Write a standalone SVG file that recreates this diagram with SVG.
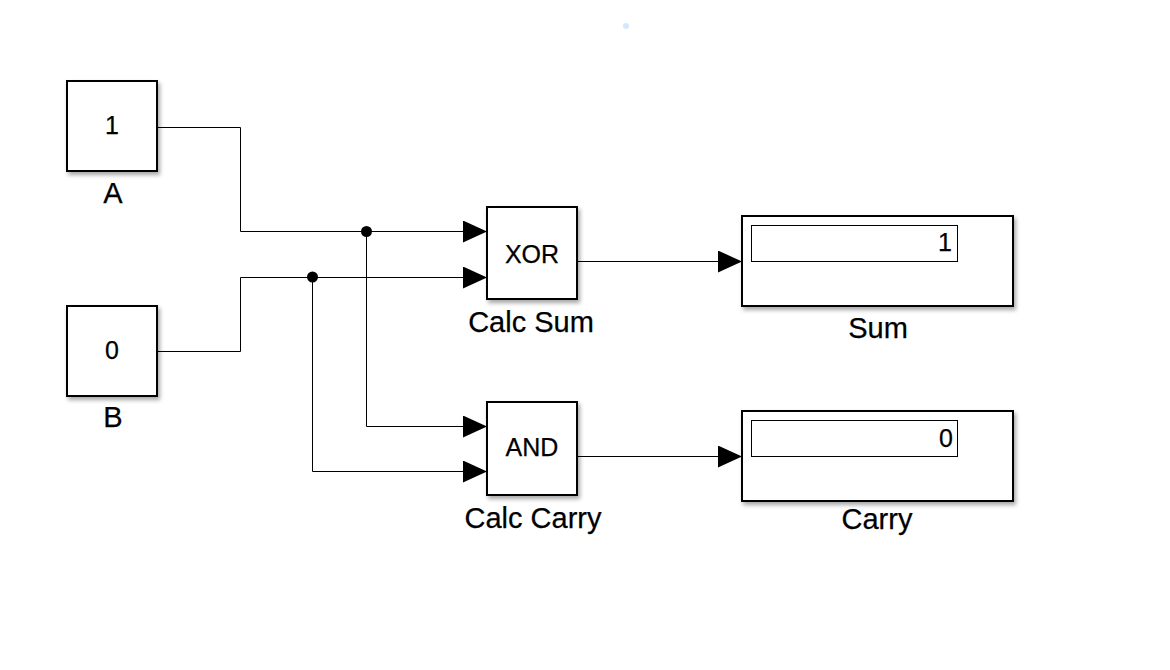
<svg xmlns="http://www.w3.org/2000/svg" width="1170" height="670" viewBox="0 0 1170 670">
<style>
.blk{fill:#fff;stroke:#000;stroke-width:2;filter:url(#sh)}
.disp{fill:#fff;stroke:#000;stroke-width:1}
.t{font-family:"Liberation Sans",Arial,sans-serif;fill:#000;stroke:#000;stroke-width:0.25}
.in{font-size:25px;text-anchor:middle}
.lbl{font-size:29px;text-anchor:middle}
.val{font-size:25px;text-anchor:end}
.w{fill:none;stroke:#000;stroke-width:1}
</style>
<defs>
<filter id="sh" x="-10%" y="-10%" width="130%" height="130%">
<feDropShadow dx="2" dy="3" stdDeviation="2" flood-color="#000" flood-opacity="0.35"/>
</filter>
<marker id="arr" markerUnits="userSpaceOnUse" markerWidth="24" markerHeight="22" refX="24" refY="11" orient="auto">
<path d="M0,0 L24,11 L0,22 z" fill="#000"/>
</marker>
</defs>
<rect width="1170" height="670" fill="#fff"/>
<circle cx="626" cy="26" r="3" fill="#d6e8f8"/>
<g id="connectors">
<path class="w" d="M158 127.5 H240.5 V231.5 H487" marker-end="url(#arr)"/>
<path class="w" d="M158 351.5 H240.5 V277.5 H487" marker-end="url(#arr)"/>
<path class="w" d="M366.5 231.5 V426.5 H487" marker-end="url(#arr)"/>
<path class="w" d="M312.5 277.5 V471.5 H487" marker-end="url(#arr)"/>
<path class="w" d="M578 261.5 H742" marker-end="url(#arr)"/>
<path class="w" d="M578 456.5 H742" marker-end="url(#arr)"/>
<circle cx="366.5" cy="231.5" r="5.5" fill="#000"/>
<circle cx="312.5" cy="277" r="5.5" fill="#000"/>
</g>
<g id="A">
<rect class="blk" x="67" y="81" width="90" height="90"/>
<text class="t in" x="112" y="134">1</text>
<text class="t lbl" x="113" y="203">A</text>
</g>
<g id="B">
<rect class="blk" x="67" y="306" width="90" height="90"/>
<text class="t in" x="112" y="359">0</text>
<text class="t lbl" x="113" y="427">B</text>
</g>
<g id="CalcSum">
<rect class="blk" x="487" y="207" width="90" height="92"/>
<text class="t in" x="532" y="263">XOR</text>
<text class="t lbl" x="531" y="332">Calc Sum</text>
</g>
<g id="CalcCarry">
<rect class="blk" x="487" y="402" width="90" height="93"/>
<text class="t in" x="532" y="456">AND</text>
<text class="t lbl" x="533" y="528">Calc Carry</text>
</g>
<g id="Sum">
<rect class="blk" x="742" y="216" width="271" height="90"/>
<rect class="disp" x="751.5" y="225.5" width="206" height="36"/>
<text class="t val" x="952" y="251">1</text>
<text class="t lbl" x="878" y="338">Sum</text>
</g>
<g id="Carry">
<rect class="blk" x="742" y="411" width="271" height="90"/>
<rect class="disp" x="751.5" y="420.5" width="206" height="36"/>
<text class="t val" x="953" y="447">0</text>
<text class="t lbl" x="877" y="529">Carry</text>
</g>
</svg>
